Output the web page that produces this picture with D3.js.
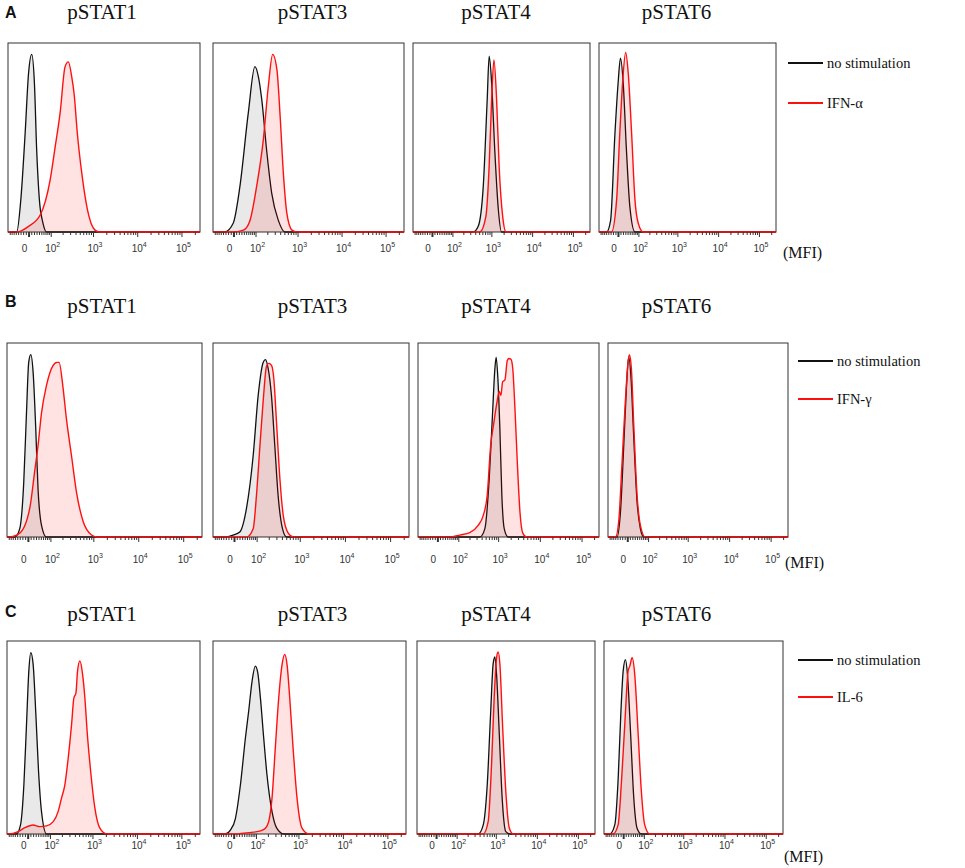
<!DOCTYPE html>
<html>
<head>
<meta charset="utf-8">
<script src="https://cdn.jsdelivr.net/npm/d3@7"></script>
<style>
  body { margin: 0; background: #fff; }
  .title, .legend text, .mfi { font-family: "Liberation Serif", "Times New Roman", serif; fill: #111; }
  .letter { font-family: "Liberation Sans", Arial, sans-serif; font-weight: bold; fill: #111; }
  .tickLabel { font-family: "Liberation Sans", Arial, sans-serif; fill: #333; }
  .axis path.domain { display: none; }
  .axis line { stroke: #333; }
</style>
</head>
<body>
<script>
// ---- data ----
var stats = ["pSTAT1", "pSTAT3", "pSTAT4", "pSTAT6"];
var rowLetters = ["A", "B", "C"];
var stimuli = ["IFN-α", "IFN-γ", "IL-6"];
var controlLabel = "no stimulation";
var majorTicks = [0, 100, 1000, 10000, 100000];
var majorExp = ["", "2", "3", "4", "5"];
var minorTicks = [-80, -70, -60, -50, -40, -30, -20, -10, 10, 20, 30, 40, 50, 60, 70, 80, 90,
  200, 300, 400, 500, 600, 700, 800, 900, 2000, 3000, 4000, 5000, 6000, 7000, 8000, 9000,
  20000, 30000, 40000, 50000, 60000, 70000, 80000, 90000, 200000];
var mfiRange = [-90, 262144];

// [MFI, % of mode] per panel (pSTAT1, pSTAT3, pSTAT4, pSTAT6)
var noStimA = [
  [[-46,0],[-29,17],[-12.6,52],[0,84],[11.5,94],[21.6,79],[30.6,43],[41.6,17],[57,5],[76,0]],
  [[-33,0],[-1,4.6],[24,24],[60,63],[96,87.5],[120,82],[146,70],[193,43],[254,20.6],[365,6],[519,0]],
  [[357,0],[474,3],[631,24],[790,70],[883,93],[1015,79],[1215,43],[1470,13],[1778,0]],
  [[-48,0],[-30,6],[-12,52],[0.7,79],[10,92],[21,79],[35,43],[51,13],[78,0]]
];
var ifnAlpha = [
  [[-46,0],[0,3],[45,9],[96,27.5],[131,45],[174,63],[229,87.5],[273,90],[328,82],[372,73],[441,52],[557,31],[745,12],[1110,1],[1400,0]],
  [[-5,0],[37.6,1],[68,6],[107,24],[160,49],[211,77],[268,94],[336,86],[400,61],[474,31],[569,10],[745,1],[966,0]],
  [[519,0],[730,8],[883,35],[1015,70],[1157,91],[1345,70],[1550,35],[1900,8],[2300,0]],
  [[-26,0],[-5.3,17],[7.2,52],[18.6,79],[31.4,95],[43,84],[59.6,52],[78,17],[99,4.6],[137,0]]
];
var noStimB = [
  [[-50,0],[-30,4.3],[-15,28],[-5,64],[3,90],[10.5,94],[19,85],[29,56],[38,25],[53,6],[77,0]],
  [[-34,0],[-3.4,1],[21,2.6],[48,15],[80,42],[110,73],[147,90],[167,91.4],[193,87],[231,73],[276,47],[328,21.5],[412,4.3],[508,0]],
  [[362,0],[479,4.3],[610,30],[735,64],[837,87],[897,92.6],[987,81.6],[1100,56],[1228,21.5],[1400,4.3],[1730,0]],
  [[-42,0],[-27,13],[-13.8,47],[-3.4,76.5],[5.6,92.8],[14.8,81.6],[25.3,52.4],[40,18],[55.5,4.3],[73,0]]
];
var ifnGamma = [
  [[-77,0],[-30,2],[7,15],[25,34],[38,47],[53,64],[77,78],[114,88],[148,90],[166,90],[206,77],[247,61],[323,42],[420,23],[592,8],[912,1],[1170,0]],
  [[48,0],[80,4.3],[99,21.5],[122,47],[147,70],[177,88],[200,89.5],[232,88.5],[262,81.6],[302,59],[360,30],[429,11],[553,2],[716,0]],
  [[51,0],[111,1],[203,2.2],[328,6],[436,11],[546,21.5],[660,47],[790,59],[948,70],[1060,75],[1168,73],[1280,80],[1456,81],[1660,91],[1820,92],[2030,91.6],[2240,87],[2560,64],[2880,38.8],[3340,12.9],[3900,2],[4800,0]],
  [[-49,0],[-34.5,8],[-20.4,38.8],[-7.5,70],[3,90],[8.2,94],[16,87],[25.3,59],[40,21.5],[55.5,6],[82,0]]
];
var noStimC = [
  [[-43,0],[-26.5,4.7],[-13.8,25.5],[-4.2,56.7],[4.2,84.4],[11.5,94],[20,88],[30.6,62],[41.6,32.4],[54.6,11.6],[80,0]],
  [[-31,0],[-12,2],[6.3,8],[25,25.5],[45.5,50],[60,63.6],[77,79],[96,87],[112,83.5],[131,70.5],[158,50],[190,30.7],[250,11.6],[322,3],[465,0]],
  [[370,0],[492,4.7],[617,25.5],[745,62],[860,88],[948,91.7],[1045,82.6],[1210,53],[1430,18.6],[1755,1.2],[2230,0]],
  [[-57,0],[-34,4.7],[-20,28],[-9.3,62],[0,84.4],[9,90.4],[17,82.6],[29.5,53],[44,18.6],[60,3],[84,0]]
];
var il6 = [
  [[-83,0],[-36,1.2],[-10.4,3.3],[20,4.7],[47,3.8],[80,4.2],[122,6.4],[162,11.6],[196,18.6],[235,25.5],[280,39],[336,56.7],[380,70.5],[423,73],[460,84.4],[520,89.6],[600,82.6],[675,70.5],[760,53],[912,32.4],[1135,13.4],[1470,3],[2090,0]],
  [[0,0],[38,0.4],[86,1],[131,1.6],[174,3],[209,6.4],[250,18.6],[298,44.5],[357,70.5],[426,87.8],[488,93],[553,87.8],[636,70.5],[757,44.5],[930,18.6],[1205,3],[1700,0]],
  [[492,0],[650,6.4],[787,36],[912,70.5],[1045,91.3],[1140,94.3],[1260,87.8],[1460,56.7],[1755,22],[2140,3],[2680,0]],
  [[-41.5,0],[-20,4.7],[-6.6,27.2],[6.3,56.7],[19.5,84.4],[26.5,87],[36.5,91.3],[48.5,82.6],[65,53],[84,22],[106,4.7],[146,0]]
];
var controls = [noStimA, noStimB, noStimC];
var stimulated = [ifnAlpha, ifnGamma, il6];

// ---- layout ----
var layout = [
  {top:43, bottom:232, cols:[[8,200],[213,404],[413,590],[599,776]], titleY:19, letterY:18, legY:[63,103], legX:788, tickY:252, mfiX:783, mfiY:258},
  {top:343, bottom:537, cols:[[7,202],[213,409],[418,599],[608,788]], titleY:313, letterY:307, legY:[361,399], legX:798, tickY:563, mfiX:785, mfiY:568},
  {top:641, bottom:834, cols:[[7,200],[213,406],[417,595],[604,783]], titleY:621, letterY:617, legY:[660,697], legX:798, tickY:849, mfiX:784, mfiY:862}
];
var titleX = [102, 312.5, 496, 676.5];

// biexponential-like display transform
var B = 70;
function tf(v){ return Math.asinh(v / B); }

var svg = d3.select("body").append("svg")
  .attr("width", 965)
  .attr("height", 868);

layout.forEach(function(L, r){
  svg.append("text")
    .attr("class", "letter")
    .attr("x", 5)
    .attr("y", L.letterY)
    .attr("font-size", 16)
    .text(rowLetters[r]);

  stats.forEach(function(name, c){
    var x0 = L.cols[c][0], x1 = L.cols[c][1];
    var xs = d3.scaleLinear().domain(mfiRange.map(tf)).range([x0, x1]);
    var ys = d3.scaleLinear().domain([0, 100]).range([L.bottom, L.top]);
    var px = function(d){ return xs(tf(d[0])); };
    var py = function(d){ return ys(d[1]); };
    var area = d3.area().x(px).y0(L.bottom).y1(py).curve(d3.curveMonotoneX);
    var line = d3.line().x(px).y(py).curve(d3.curveMonotoneX);
    function full(pts){ return [[mfiRange[0], 0]].concat(pts, [[mfiRange[1], 0]]); }

    svg.append("text")
      .attr("class", "title")
      .attr("x", titleX[c])
      .attr("y", L.titleY)
      .attr("text-anchor", "middle")
      .attr("font-size", 21)
      .text(name);

    var g = svg.append("g");
    var clipId = "clip" + r + c;
    g.append("clipPath").attr("id", clipId)
      .append("rect")
      .attr("x", x0).attr("y", L.top - 2)
      .attr("width", x1 - x0).attr("height", L.bottom - L.top + 3);

    g.append("rect")
      .attr("x", x0).attr("y", L.top)
      .attr("width", x1 - x0).attr("height", L.bottom - L.top)
      .attr("fill", "#fff")
      .attr("stroke", "#333")
      .attr("stroke-width", 1);

    var plot = g.append("g").attr("clip-path", "url(#" + clipId + ")");
    var ctl = full(controls[r][c]), stim = full(stimulated[r][c]);

    plot.append("path").attr("d", area(ctl))
      .attr("fill", "rgba(0,0,0,0.085)");
    plot.append("path").attr("d", line(ctl))
      .attr("fill", "none").attr("stroke", "#111").attr("stroke-width", 1.3);
    plot.append("path").attr("d", area(stim))
      .attr("fill", "rgba(255,0,0,0.11)");
    plot.append("path").attr("d", line(stim))
      .attr("fill", "none").attr("stroke", "#ff1010").attr("stroke-width", 1.4);

    // axis ticks
    var axisG = g.append("g").attr("transform", "translate(0," + L.bottom + ")");
    axisG.append("g").attr("class", "axis")
      .call(d3.axisBottom(xs).tickValues(minorTicks.map(tf)).tickSize(3).tickFormat(""));
    axisG.append("g").attr("class", "axis major")
      .call(d3.axisBottom(xs).tickValues(majorTicks.map(tf)).tickSize(5).tickFormat(""));
    axisG.select(".major").selectAll(".tick line")
      .attr("stroke-width", function(d, i){ return i === 0 ? 2 : 1; });

    majorTicks.forEach(function(v, i){
      var t = svg.append("text")
        .attr("class", "tickLabel")
        .attr("x", xs(tf(v)) + (i === 0 ? -4 : 2))
        .attr("y", L.tickY)
        .attr("text-anchor", "middle")
        .attr("font-size", 10);
      if (i === 0) {
        t.text("0");
      } else {
        t.append("tspan").text("10");
        t.append("tspan").attr("font-size", 7).attr("dy", -5).text(majorExp[i]);
      }
    });
  });

  // legend
  var leg = svg.append("g").attr("class", "legend");
  [controlLabel, stimuli[r]].forEach(function(label, i){
    var y = L.legY[i];
    leg.append("line")
      .attr("x1", L.legX).attr("x2", L.legX + 35)
      .attr("y1", y).attr("y2", y)
      .attr("stroke", i === 0 ? "#111" : "#ff1010")
      .attr("stroke-width", 2);
    leg.append("text")
      .attr("x", L.legX + 39)
      .attr("y", y + 5)
      .attr("font-size", 14.5)
      .text(label);
  });

  svg.append("text")
    .attr("class", "mfi")
    .attr("x", L.mfiX)
    .attr("y", L.mfiY)
    .attr("font-size", 16)
    .text("(MFI)");
});
</script>
</body>
</html>
